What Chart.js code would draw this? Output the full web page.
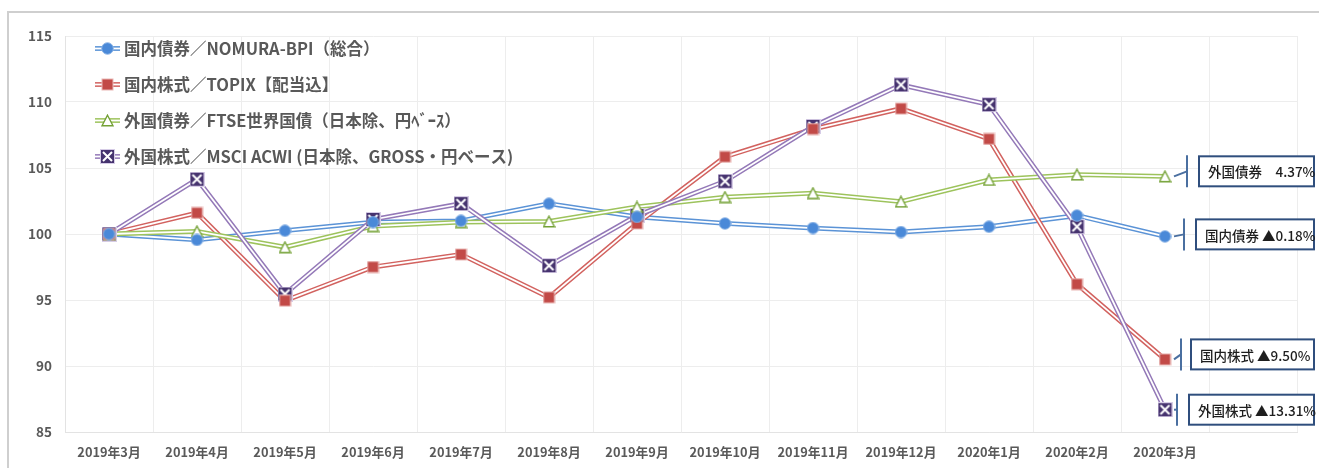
<!DOCTYPE html>
<html>
<head>
<meta charset="utf-8">
<script src="https://cdn.jsdelivr.net/npm/chart.js@4.4.0/dist/chart.umd.min.js"></script>
<style>
  body { margin: 0; background: #fff; }
  #wrap { position: relative; width: 1319px; height: 468px; }
</style>
</head>
<body>
<div id="wrap"><canvas id="chart" width="1319" height="468"></canvas></div>
<script>
// categories (last one left empty to make room for the callouts)
const months = ['2019年3月', '2019年4月', '2019年5月', '2019年6月', '2019年7月', '2019年8月', '2019年9月',
  '2019年10月', '2019年11月', '2019年12月', '2020年1月', '2020年2月', '2020年3月', ''];

const domesticBond = [100, 99.55, 100.25, 100.9, 101.0, 102.3, 101.3, 100.8, 100.45, 100.15, 100.55, 101.4, 99.82];
const domesticStock = [100, 101.6, 94.95, 97.5, 98.45, 95.2, 100.8, 105.85, 107.95, 109.5, 107.2, 96.2, 90.50];
const foreignBond = [100, 100.2, 99.0, 100.6, 100.9, 100.95, 102.05, 102.8, 103.1, 102.45, 104.1, 104.5, 104.37];
const foreignStock = [100, 104.15, 95.45, 101.1, 102.3, 97.6, 101.4, 104.0, 108.15, 111.3, 109.8, 100.55, 86.69];

const seriesNames = [
  '国内債券／NOMURA-BPI（総合）',
  '国内株式／TOPIX【配当込】',
  '外国債券／FTSE世界国債（日本除、円ﾍﾞｰｽ）',
  '外国株式／MSCI ACWI (日本除、GROSS・円ベース)'
];
const calloutTexts = ['国内債券 ▲0.18%', '国内株式 ▲9.50%', '外国債券　4.37%', '外国株式 ▲13.31%'];

const yTicks = [85, 90, 95, 100, 105, 110, 115];

const seriesData = [domesticBond, domesticStock, foreignBond, foreignStock];
const lineColors = ['#5B93D6', '#D2625F', '#9DC35C', '#9479B8'];

// marker images
function makeMarker(kind) {
  const c = document.createElement('canvas');
  const s = kind === 'x' ? 15 : 13;
  c.width = s; c.height = s;
  const g = c.getContext('2d');
  if (kind === 'circle') {
    g.beginPath(); g.arc(6.5, 6.5, 5.8, 0, Math.PI * 2);
    g.fillStyle = '#4A89D8'; g.fill();
    g.strokeStyle = '#8FB6E6'; g.lineWidth = 1; g.stroke();
  } else if (kind === 'square') {
    g.fillStyle = '#E9B7B5'; g.fillRect(0.5, 0.5, 12, 12);
    g.fillStyle = '#C24A47'; g.fillRect(1.5, 1.5, 10, 10);
  } else if (kind === 'triangle') {
    g.beginPath(); g.moveTo(6.5, 1.2); g.lineTo(12, 11.8); g.lineTo(1, 11.8); g.closePath();
    g.fillStyle = '#fff'; g.fill();
    g.strokeStyle = '#74A136'; g.lineWidth = 1.4; g.stroke();
  } else {
    g.fillStyle = '#D6CCE6'; g.fillRect(0, 0, 15, 15);
    g.fillStyle = '#46336F'; g.fillRect(1, 1, 13, 13);
    g.strokeStyle = '#fff'; g.lineWidth = 2;
    g.beginPath(); g.moveTo(3, 3); g.lineTo(12, 12); g.moveTo(12, 3); g.lineTo(3, 12); g.stroke();
  }
  return c;
}
const markers = [makeMarker('circle'), makeMarker('square'), makeMarker('triangle'), makeMarker('x')];

// each series = outer colored line + white inner line (double line look) + markers
const outerW = 4.8, innerW = 1.8;
const datasets = [];
seriesData.forEach((d, i) => {
  datasets.push({ data: d, borderColor: lineColors[i], borderWidth: outerW, pointRadius: 0, tension: 0, order: 2 + (3 - i) * 2 });
  datasets.push({ data: d, borderColor: '#ffffff', borderWidth: innerW, pointRadius: 0, tension: 0, order: 1 + (3 - i) * 2 });
});
seriesData.forEach((d, i) => {
  datasets.push({ data: d, showLine: false, pointStyle: markers[i], pointRadius: 6, order: 0 });
});

const gray = '#595959';
const jp = '"Noto Sans CJK JP", "Noto Sans", sans-serif';

const frame = {
  id: 'frame',
  beforeDraw(chart) {
    const ctx = chart.ctx;
    ctx.save();
    ctx.strokeStyle = '#CFCFCF';
    ctx.lineWidth = 2;
    ctx.beginPath();
    ctx.moveTo(8, 468); ctx.lineTo(8, 12); ctx.lineTo(1319, 12);
    ctx.stroke();
    ctx.restore();
  }
};

const legendBox = {
  id: 'legendBox',
  afterDraw(chart) {
    const ctx = chart.ctx;
    const a = chart.chartArea;
    ctx.save();
    seriesNames.forEach((name, i) => {
      const y = a.top + 12.5 + i * 36;
      const x0 = a.left + 30;
      ctx.strokeStyle = lineColors[i]; ctx.lineWidth = outerW;
      ctx.beginPath(); ctx.moveTo(x0, y); ctx.lineTo(x0 + 25, y); ctx.stroke();
      ctx.strokeStyle = '#fff'; ctx.lineWidth = innerW;
      ctx.beginPath(); ctx.moveTo(x0, y); ctx.lineTo(x0 + 25, y); ctx.stroke();
      const m = markers[i];
      ctx.drawImage(m, x0 + 12.5 - m.width / 2, y - m.height / 2);
      ctx.fillStyle = gray;
      ctx.font = 'bold 16.5px ' + jp;
      ctx.textBaseline = 'middle';
      ctx.fillText(name, x0 + 29, y);
    });
    ctx.restore();
  }
};

// callouts: [index of series, bar dx, box dx, dy]
const calloutPlace = [[0, 19, 31, -2], [1, 16, 26, -5], [2, 22, 34, -5], [3, 12, 24, 0]];
const callouts = {
  id: 'callouts',
  afterDraw(chart) {
    const ctx = chart.ctx;
    const xs = chart.scales.x, ys = chart.scales.y;
    ctx.save();
    calloutPlace.forEach(([s, barDx, boxDx, dy]) => {
      const d = seriesData[s];
      const px = xs.getPixelForValue(d.length - 1);
      const py = ys.getPixelForValue(d[d.length - 1]);
      const cy = py + dy;
      const barX = px + barDx;
      ctx.strokeStyle = '#4A6FA0'; ctx.lineWidth = 2;
      ctx.beginPath(); ctx.moveTo(px + 9, py); ctx.lineTo(barX, cy); ctx.stroke();
      ctx.beginPath(); ctx.moveTo(barX, cy - 16); ctx.lineTo(barX, cy + 16); ctx.stroke();
      const bx = px + boxDx;
      const bw = chart.width - 5 - bx;
      ctx.fillStyle = '#fff';
      ctx.fillRect(bx, cy - 15, bw, 30);
      ctx.strokeStyle = '#2F4E7D';
      ctx.strokeRect(bx, cy - 15, bw, 30);
      ctx.fillStyle = '#1E1E1E';
      ctx.font = '500 13.5px ' + jp;
      ctx.textBaseline = 'middle';
      ctx.fillText(calloutTexts[s], bx + 9, cy + 1);
    });
    ctx.restore();
  }
};

new Chart(document.getElementById('chart'), {
  type: 'line',
  data: { labels: months, datasets: datasets },
  options: {
    responsive: false,
    animation: false,
    layout: { padding: { top: 36, right: 22, bottom: 0, left: 0 } },
    plugins: { legend: { display: false }, tooltip: { enabled: false } },
    scales: {
      x: {
        offset: true,
        grid: { offset: true, color: '#EDEDED', drawTicks: false },
        border: { color: '#E3E3E3' },
        ticks: { color: gray, font: { family: jp, size: 12.8, weight: 'bold' }, padding: 12, maxRotation: 0, autoSkip: false },
        afterFit(scale) { scale.height = 36; }
      },
      y: {
        min: 85,
        max: 115,
        afterBuildTicks(scale) { scale.ticks = yTicks.map(v => ({ value: v })); },
        grid: { color: '#EDEDED', drawTicks: false },
        border: { color: '#E3E3E3' },
        ticks: { color: gray, font: { family: jp, size: 13.5, weight: 'bold' }, padding: 13 },
        afterFit(scale) { scale.width = 65; }
      }
    }
  },
  plugins: [frame, legendBox, callouts]
});
</script>
</body>
</html>
